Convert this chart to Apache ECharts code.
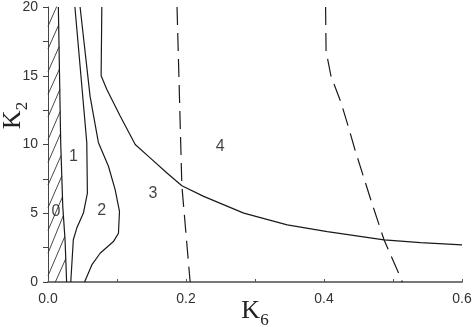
<!DOCTYPE html>
<html>
<head>
<meta charset="utf-8">
<script src="https://cdn.jsdelivr.net/npm/echarts@6.0.0/dist/echarts.min.js"></script>
<style>html,body{margin:0;padding:0;background:#fff;}#c{width:473px;height:327px;}</style>
</head>
<body>
<div id="c"></div>
<script>
// Axis ranges / ticks
var xTicks = [0.0, 0.2, 0.4, 0.6];
var yTicks = [0, 5, 10, 15, 20];

// Hatched region boundary (K6, K2)
var boundary0 = [[0.015,20],[0.0184,10.15],[0.0214,5.5],[0.0247,3.07],[0.027,0]];
// Solid boundaries
var curve1 = [[0.039,20],[0.0562,10.15],[0.0571,6.47],[0.0513,5.01],[0.0417,3.92],[0.0367,3.07],[0.033,0]];
var curve2 = [[0.0465,20],[0.061,13.5],[0.073,10.15],[0.0876,8.42],[0.0973,6.72],[0.1036,5.13],[0.1021,3.55],[0.0948,2.94],[0.0755,2.09],[0.0635,1.24],[0.053,0]];
var curve3 = [[0.078,20],[0.077,15],[0.0853,14.0],[0.1046,12.07],[0.1264,10.0],[0.148,9.03],[0.1724,7.93],[0.194,7.0],[0.2256,6.23],[0.2837,5.01],[0.3467,4.16],[0.4048,3.67],[0.487,3.07],[0.54,2.87],[0.6,2.7]];
// Dashed boundaries
var dashed1 = [[0.187,20],[0.194,7.0],[0.206,0]];
var dashed2 = [[0.4023,20],[0.403,16.8],[0.41,15],[0.425,13],[0.437,11],[0.445,9.6],[0.4677,6.0],[0.487,3.07],[0.5137,0]];
// Hatch strokes: start K2 on the axis (K6 = 0) and end point on the boundary
var hatchFrom = [18.6,16.95,15.3,13.65,12.0,10.35,8.7,7.05,5.4,3.75,2.1,0.45,-1.2];
var hatchTo = [[0.015,20.3],[0.0155,18.7],[0.016,17.1],[0.0167,15.5],[0.0172,14.0],[0.0177,12.4],[0.0182,10.8],[0.019,9.2],[0.02,7.7],[0.021,6.2],[0.022,4.8],[0.0243,3.3],[0.0258,1.7]];
// Region labels
var regionNames = ['0','1','2','3','4'];
var regionPos = [[0.0114,5.13],[0.0368,9.15],[0.078,5.2],[0.152,6.42],[0.2497,9.88]];

var hatchData = [];
for (var i = 0; i < hatchFrom.length; i++) {
  hatchData.push([0, hatchFrom[i]]);
  hatchData.push(hatchTo[i]);
  hatchData.push([null, null]);
}

var lineColor = '#1a1a1a';
function solid(data) {
  return {type:'line', data:data, symbol:'none', smooth:false, silent:true,
    lineStyle:{color:lineColor, width:1.2}, z:3};
}
function dashed(data) {
  return {type:'line', data:data, symbol:'none', smooth:false, silent:true,
    lineStyle:{color:lineColor, width:1.2, type:[18,8]}, z:3};
}

var chart = echarts.init(document.getElementById('c'), null, {renderer:'canvas'});
chart.setOption({
  animation:false,
  backgroundColor:'#fff',
  grid:{left:48, right:11, top:7, bottom:45, containLabel:false, outerBoundsMode:'none'},
  xAxis:{
    type:'value', min:xTicks[0], max:xTicks[xTicks.length-1], interval:0.2,
    name:'{k|K}{s|6}', nameLocation:'middle', nameGap:16, nameMoveOverlap:false,
    nameTextStyle:{rich:{
      k:{fontFamily:'Liberation Serif', fontSize:26, lineHeight:26, verticalAlign:'top', color:'#222'},
      s:{fontFamily:'Liberation Serif', fontSize:17, lineHeight:17, verticalAlign:'top', padding:[14,0,0,0], color:'#222'}
    }},
    axisLine:{show:true, onZero:false, lineStyle:{color:'#777', width:2}},
    axisTick:{show:true, inside:true, length:3, lineStyle:{color:'#555'}},
    minorTick:{show:true, splitNumber:2, length:3, lineStyle:{color:'#555'}},
    splitLine:{show:false},
    axisLabel:{margin:10, color:'#333', fontFamily:'Liberation Sans', fontSize:14,
      formatter:function(v){return v.toFixed(1);}}
  },
  yAxis:{
    type:'value', min:yTicks[0], max:yTicks[yTicks.length-1], interval:5,
    name:'{k|K}{s|2}', nameLocation:'middle', nameRotate:90, nameGap:22, nameMoveOverlap:false,
    nameTextStyle:{padding:[0,0,0,58], rich:{
      k:{fontFamily:'Liberation Serif', fontSize:26, lineHeight:26, verticalAlign:'top', color:'#222'},
      s:{fontFamily:'Liberation Serif', fontSize:17, lineHeight:17, verticalAlign:'top', padding:[14,0,0,0], color:'#222'}
    }},
    axisLine:{show:true, onZero:false, lineStyle:{color:'#444', width:1}},
    axisTick:{show:true, inside:false, length:5, lineStyle:{color:'#444'}},
    minorTick:{show:true, splitNumber:2, length:5, lineStyle:{color:'#444'}},
    splitLine:{show:false},
    axisLabel:{margin:10, color:'#333', fontFamily:'Liberation Sans', fontSize:14}
  },
  series:[
    {type:'line', data:hatchData, symbol:'none', silent:true, connectNulls:false, clip:true,
      lineStyle:{color:'#333', width:0.9}, z:2},
    solid(boundary0),
    solid(curve1),
    solid(curve2),
    solid(curve3),
    dashed(dashed1),
    dashed(dashed2),
    {type:'scatter', silent:true, symbolSize:1, itemStyle:{color:'transparent'},
      data: regionPos.map(function(p,i){return {name:regionNames[i], value:p};}),
      label:{show:true, position:'inside', formatter:'{b}', color:'#111',
        fontFamily:'Liberation Sans', fontSize:16}, z:4}
  ]
});
</script>
</body>
</html>
